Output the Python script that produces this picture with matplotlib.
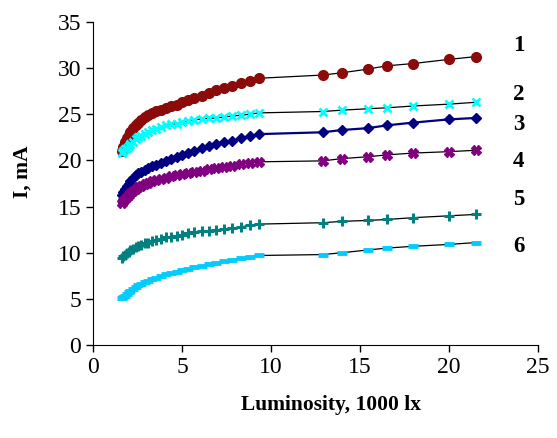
import numpy as np
import matplotlib
matplotlib.use('Agg')
from matplotlib import pyplot as plt

plt.rcParams['font.family'] = ['Liberation Serif', 'DejaVu Serif']

# luminosity, 1000 lx (same for all curves)
lux = [1.6, 1.7, 1.8, 1.9, 2.0, 2.1, 2.25, 2.4, 2.55, 2.7, 2.9, 3.1, 3.3, 3.55, 3.8,
       4.1, 4.4, 4.7, 5.0, 5.35, 5.7, 6.1, 6.5, 6.9, 7.35, 7.8, 8.3, 8.8, 9.3,
       12.9, 14.0, 15.45, 16.5, 18.0, 20.0, 21.5]

# current, mA
i1 = [21.0, 21.5, 22.0, 22.4, 22.8, 23.1, 23.5, 23.8, 24.1, 24.4, 24.7, 24.9, 25.1, 25.35, 25.5,
      25.7, 25.9, 26.05, 26.3, 26.5, 26.75, 27.0, 27.3, 27.6, 27.9, 28.1, 28.4, 28.6, 28.9,
      29.25, 29.5, 29.9, 30.25, 30.5, 30.95, 31.25]
i2 = [20.8, 21.0, 21.2, 21.4, 21.6, 21.8, 22.0, 22.3, 22.5, 22.7, 22.9, 23.1, 23.25, 23.45, 23.6,
      23.8, 23.9, 24.0, 24.15, 24.3, 24.4, 24.5, 24.55, 24.6, 24.7, 24.8, 24.9, 25.0, 25.15,
      25.3, 25.45, 25.6, 25.7, 25.9, 26.1, 26.3]
i3 = [16.3, 16.6, 16.9, 17.2, 17.5, 17.8, 18.1, 18.4, 18.6, 18.8, 19.0, 19.2, 19.35, 19.55, 19.75,
      19.95, 20.15, 20.35, 20.6, 20.85, 21.05, 21.3, 21.55, 21.75, 21.95, 22.15, 22.4, 22.6, 22.85,
      23.05, 23.3, 23.5, 23.8, 24.1, 24.45, 24.6]
i4 = [15.4, 15.6, 15.85, 16.05, 16.25, 16.45, 16.7, 16.95, 17.1, 17.25, 17.45, 17.6, 17.75, 17.9, 18.0,
      18.15, 18.3, 18.4, 18.5, 18.65, 18.8, 18.9, 19.05, 19.15, 19.3, 19.45, 19.6, 19.7, 19.85,
      19.95, 20.2, 20.4, 20.6, 20.8, 20.95, 21.1]
i5 = [9.4, 9.6, 9.8, 9.95, 10.1, 10.25, 10.45, 10.6, 10.75, 10.85, 11.0, 11.1, 11.3, 11.4, 11.5,
      11.65, 11.75, 11.85, 11.95, 12.1, 12.2, 12.3, 12.4, 12.45, 12.55, 12.65, 12.8, 12.95, 13.1,
      13.25, 13.4, 13.5, 13.6, 13.8, 14.0, 14.15]
i6 = [5.05, 5.2, 5.35, 5.5, 5.7, 5.85, 6.05, 6.25, 6.45, 6.6, 6.8, 6.95, 7.1, 7.3, 7.45,
      7.65, 7.8, 7.95, 8.1, 8.25, 8.4, 8.6, 8.75, 8.9, 9.05, 9.2, 9.4, 9.55, 9.7,
      9.8, 10.0, 10.3, 10.5, 10.7, 10.9, 11.1]

curve_labels = ['1', '2', '3', '4', '5', '6']
label_y = [32.4, 27.1, 23.9, 19.9, 15.8, 10.7]

fig = plt.figure(figsize=(5.57, 4.38), dpi=100)
ax = fig.add_axes([0.167, 0.2123, 0.799, 0.7375])

x = np.array(lux)
# curve 1: dark red circles
ax.plot(x, i1, color='black', lw=0.9, marker='o', ms=7, mfc='#8B0A0A', mec='#8B0A0A')
# curve 2: cyan crosses
ax.plot(x, i2, color='black', lw=0.9, marker='x', ms=5.5, mew=2.0, mec='#00FFFF')
# curve 3: navy diamonds, navy line
ax.plot(x, i3, color='#000080', lw=1.6, marker='D', ms=5.5, mfc='#000080', mec='#000080')
# curve 4: purple X
ax.plot(x, i4, color='black', lw=0.9, marker='X', ms=7, mfc='#800080', mec='#800080')
# curve 5: teal plus
ax.plot(x, i5, color='black', lw=0.9, marker='+', ms=7, mew=2.2, mec='#008080')
# curve 6: light blue dashes
ax.plot(x, i6, color='black', lw=0.9, marker='_', ms=7, mew=3.5, mec='#00CCFF')

for lab, yy in zip(curve_labels, label_y):
    ax.text(23.9, yy, lab, fontsize=16.5, fontweight='bold', ha='center', va='center')

ax.set_xlim(0, 25)
ax.set_ylim(0, 35)
ax.set_xticks(np.arange(0, 26, 5))
ax.set_yticks(np.arange(0, 36, 5))
ax.spines['top'].set_visible(False)
ax.spines['right'].set_visible(False)
ax.tick_params(direction='out', length=5, labelsize=17, width=1)
ax.set_xlabel('Luminosity, 1000 lx', fontsize=15.5, fontweight='bold')
ax.set_ylabel('I, mA', fontsize=15.5, fontweight='bold')
ax.xaxis.set_label_coords(0.535, -0.155)
ax.yaxis.set_label_coords(-0.135, 0.535)

fig.savefig('out.png', dpi=100)
